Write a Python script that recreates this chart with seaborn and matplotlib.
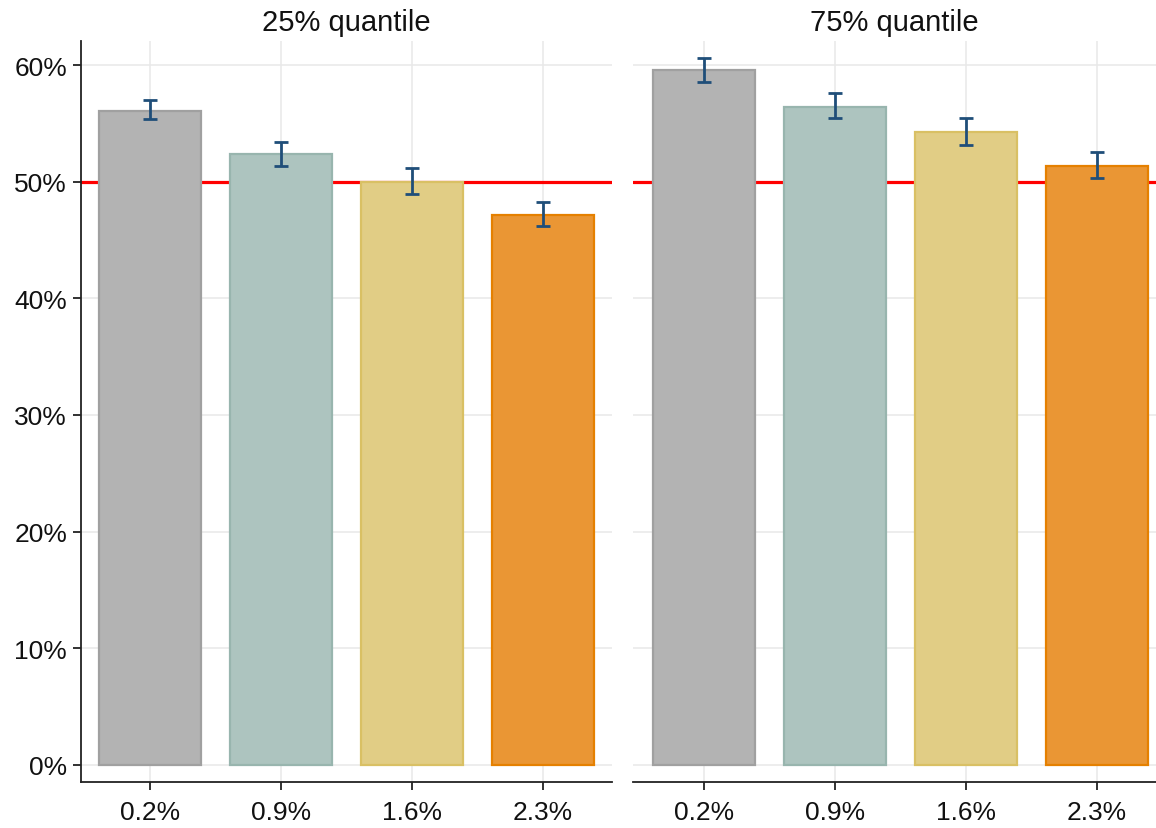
import numpy as np
import pandas as pd
import matplotlib
matplotlib.use("Agg")
import matplotlib.pyplot as plt
import seaborn as sns
from matplotlib.ticker import PercentFormatter

# Category labels (x axis) and panel titles
categories = ["0.2%", "0.9%", "1.6%", "2.3%"]
panels = ["25% quantile", "75% quantile"]

# Share values (%) with lower/upper bounds of the error bars
q25_values = [56.1, 52.4, 50.0, 47.2]
q25_low = [55.4, 51.4, 49.0, 46.2]
q25_high = [57.0, 53.4, 51.2, 48.3]

q75_values = [59.6, 56.4, 54.3, 51.4]
q75_low = [58.6, 55.5, 53.2, 50.3]
q75_high = [60.6, 57.6, 55.5, 52.6]

reference_level = 50.0

fill_colors = ["#b3b3b3", "#adc4bf", "#e1cd85", "#ea9634"]
edge_colors = ["#a0a0a0", "#98b5ae", "#d9c064", "#e58000"]
err_color = "#1f4e79"

sns.set_theme(style="white")
plt.rcParams["font.family"] = ["Liberation Sans", "DejaVu Sans"]

fig = plt.figure(figsize=(11.56, 8.29), dpi=100)
W, H = 1156, 829
ax_left = fig.add_axes([81 / W, (H - 783) / H, (612 - 81) / W, (783 - 42) / H])
ax_right = fig.add_axes([633 / W, (H - 783) / H, (W - 633) / W, (783 - 42) / H])

datasets = [
    (ax_left, q25_values, q25_low, q25_high, (-0.53, 3.53)),
    (ax_right, q75_values, q75_low, q75_high, (-0.54, 3.45)),
]

for (ax, vals, lo, hi, xlim), title in zip(datasets, panels):
    df = pd.DataFrame({"rate": categories, "share": vals})
    sns.barplot(data=df, x="rate", y="share", hue="rate", palette=fill_colors,
                order=categories, hue_order=categories, width=0.78,
                saturation=1, errorbar=None, legend=False, ax=ax, zorder=3)
    for patch, ec in zip(ax.patches, edge_colors):
        patch.set_edgecolor(ec)
        patch.set_linewidth(1.6)

    xs = np.arange(len(categories))
    vals_a = np.array(vals)
    yerr = np.vstack([vals_a - np.array(lo), np.array(hi) - vals_a])
    ax.errorbar(xs, vals_a, yerr=yerr, fmt="none", ecolor=err_color,
                elinewidth=2.0, capsize=4.8, capthick=2.0, zorder=4)

    ax.axhline(reference_level, color="#ff0000", lw=2.3, zorder=2)

    ax.set_ylim(-1.5, 62.1)
    ax.set_xlim(*xlim)
    ax.set_yticks(np.arange(0, 61, 10))
    ax.yaxis.set_major_formatter(PercentFormatter(decimals=0))
    ax.grid(True, color="#e8e8e8", lw=1.1, zorder=0)
    ax.set_axisbelow(True)
    ax.set_xlabel("")
    ax.set_ylabel("")
    ax.set_title(title, fontsize=21, pad=8, color="#111111")

    ax.tick_params(axis="x", which="both", bottom=True, length=6, width=1.3,
                   color="#222222", labelsize=19, pad=7, labelcolor="#111111")
    for s in ["top", "right"]:
        ax.spines[s].set_visible(False)
    ax.spines["bottom"].set_color("#222222")
    ax.spines["bottom"].set_linewidth(1.3)

ax_left.tick_params(axis="y", which="both", left=True, length=6, width=1.3,
                    color="#222222", labelsize=19, pad=4, labelcolor="#111111")
ax_left.spines["left"].set_color("#222222")
ax_left.spines["left"].set_linewidth(1.3)

ax_right.spines["left"].set_visible(False)
ax_right.tick_params(axis="y", left=False, labelleft=False)

fig.savefig("out.png", dpi=100)
